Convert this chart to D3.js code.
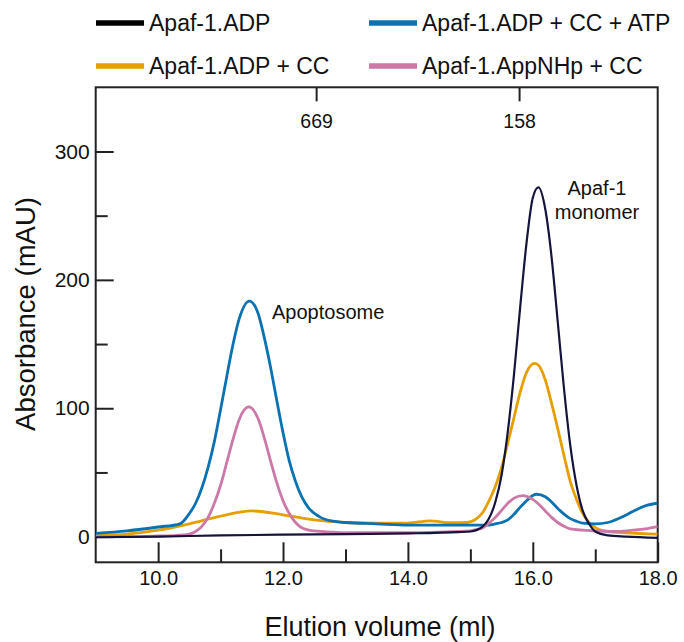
<!DOCTYPE html>
<html>
  <head>
    <meta charset="UTF-8" />
    <title>Apaf-1 gel filtration</title>
    <script src="https://d3js.org/d3.v7.min.js"></script>
    <style>
      body {
        margin: 0;
        background-color: #fff;
      }
      svg text {
        font-family: "Liberation Sans", Arial, sans-serif;
        fill: #111;
      }
    </style>
  </head>
  <body>
    <div id="chart"></div>

    <script>
      // elution volume (ml), absorbance (mAU)
      const apafADP = [
        [9.0, -0.5], [10.0, 0], [11.0, 1], [12.0, 1.5], [13.0, 2], [14.0, 2.5],
        [14.8, 3.5], [15.0, 4], [15.2, 8], [15.4, 27], [15.5, 48], [15.6, 82],
        [15.7, 127], [15.8, 180], [15.9, 229], [16.0, 264], [16.09, 272],
        [16.2, 255], [16.3, 218], [16.4, 167], [16.5, 115], [16.6, 71],
        [16.7, 40], [16.8, 20], [16.9, 10], [17.0, 4], [17.2, 1], [17.5, 0],
        [18.0, -1],
      ];
      const apafADPCC = [
        [9.0, 1], [9.5, 2], [10.0, 5], [10.5, 10], [11.0, 16], [11.5, 20],
        [12.0, 17], [12.5, 13], [13.0, 11], [13.5, 10.4], [14.0, 10.5],
        [14.35, 12.3], [14.7, 10.8], [14.95, 11], [15.1, 14], [15.2, 19],
        [15.3, 28], [15.4, 39], [15.5, 54], [15.6, 73], [15.7, 93],
        [15.8, 113], [15.9, 128], [16.03, 135], [16.1, 133], [16.2, 122],
        [16.3, 104], [16.4, 84], [16.5, 63], [16.6, 43], [16.7, 29],
        [16.8, 18], [16.9, 11], [17.0, 7], [17.2, 4], [17.5, 3], [18.0, 2],
      ];
      const apafADPCCATP = [
        [9.0, 2.5], [9.5, 4.5], [10.0, 7.5], [10.35, 10], [10.5, 18],
        [10.6, 26], [10.8, 54], [10.9, 74], [11.0, 99], [11.1, 125],
        [11.2, 150], [11.3, 170], [11.46, 183.5], [11.6, 174], [11.7, 155],
        [11.8, 132], [11.9, 106], [12.0, 81], [12.1, 59], [12.2, 43],
        [12.3, 31], [12.4, 23], [12.6, 15], [12.8, 12], [13.0, 11],
        [13.5, 10], [14.0, 9], [14.5, 9], [15.0, 9], [15.3, 9], [15.4, 10],
        [15.5, 11], [15.6, 13], [15.7, 17.5], [15.8, 23], [15.9, 28],
        [16.0, 32], [16.06, 33], [16.2, 31], [16.3, 27], [16.4, 22],
        [16.5, 17.5], [16.6, 14], [16.7, 12], [16.8, 10.5], [17.0, 10],
        [17.2, 11], [17.4, 14.7], [17.6, 19.5], [17.8, 24], [18.0, 26],
      ];
      const apafAppNHpCC = [
        [9.0, 0], [9.5, 0], [10.0, 0.5], [10.3, 1], [10.5, 2], [10.6, 4],
        [10.7, 8], [10.8, 15], [10.9, 26], [11.0, 40], [11.1, 58],
        [11.2, 76], [11.3, 91.5], [11.45, 101], [11.6, 92], [11.7, 77],
        [11.8, 59], [11.9, 42], [12.0, 28], [12.1, 18], [12.2, 11],
        [12.3, 7], [12.5, 4.5], [12.8, 3.5], [13.0, 3], [14.0, 3],
        [14.5, 3.5], [15.0, 4.5], [15.1, 5.5], [15.2, 7], [15.3, 10.5],
        [15.4, 15], [15.5, 20.5], [15.6, 26], [15.7, 30], [15.84, 32],
        [16.0, 29], [16.1, 25], [16.2, 20], [16.3, 15], [16.4, 11],
        [16.5, 8], [16.6, 6], [16.8, 5], [17.0, 4.5], [17.3, 4],
        [17.6, 5], [17.8, 6], [18.0, 8],
      ];

      const seriesNames = [
        "Apaf-1.ADP",
        "Apaf-1.ADP + CC + ATP",
        "Apaf-1.ADP + CC",
        "Apaf-1.AppNHp + CC",
      ];
      const seriesData = [apafADP, apafADPCCATP, apafADPCC, apafAppNHpCC];
      const seriesColors = ["#14143c", "#0a72b2", "#e69f00", "#cc79a7"];
      const legendColors = ["#000000", "#0a72b2", "#e69f00", "#cc79a7"];
      const drawOrder = [2, 1, 3, 0];

      const xMajorTicks = [10, 12, 14, 16, 18];
      const xMinorTicks = [11, 13, 15, 17];
      const yMajorTicks = [0, 100, 200, 300];
      const yMinorTicks = [50, 150, 250];

      // size standards (kDa) on the top axis
      const markerVolumes = [12.53, 15.78];
      const markerLabels = ["669", "158"];

      const width = 684;
      const height = 642;
      const plotLeft = 95.7,
        plotRight = 657.7,
        plotTop = 87.3,
        plotBottom = 562.3;

      const x = d3.scaleLinear().domain([9, 18]).range([plotLeft, plotRight]);
      const y = d3.scaleLinear().domain([-20, 350]).range([plotBottom, plotTop]);

      const svg = d3
        .select("#chart")
        .append("svg")
        .attr("width", width)
        .attr("height", height);

      svg
        .append("clipPath")
        .attr("id", "plot-clip")
        .append("rect")
        .attr("x", plotLeft)
        .attr("y", plotTop)
        .attr("width", plotRight - plotLeft)
        .attr("height", plotBottom - plotTop);

      // x axis, ticks pointing inward
      const xAxis = svg
        .append("g")
        .attr("transform", `translate(0,${plotBottom})`)
        .call(
          d3
            .axisBottom(x)
            .tickValues(xMajorTicks)
            .tickSize(-20)
            .tickSizeOuter(0)
            .tickPadding(9)
            .tickFormat(d3.format(".1f"))
        );
      svg
        .append("g")
        .attr("transform", `translate(0,${plotBottom})`)
        .call(
          d3
            .axisBottom(x)
            .tickValues(xMinorTicks)
            .tickSize(-13)
            .tickSizeOuter(0)
            .tickFormat("")
        );

      const yAxis = svg
        .append("g")
        .attr("transform", `translate(${plotLeft},0)`)
        .call(
          d3
            .axisLeft(y)
            .tickValues(yMajorTicks)
            .tickSize(-18)
            .tickSizeOuter(0)
            .tickPadding(6)
        );
      svg
        .append("g")
        .attr("transform", `translate(${plotLeft},0)`)
        .call(
          d3
            .axisLeft(y)
            .tickValues(yMinorTicks)
            .tickSize(-12)
            .tickSizeOuter(0)
            .tickFormat("")
        );

      // top axis with the molecular weight markers
      const topAxis = svg
        .append("g")
        .attr("transform", `translate(0,${plotTop})`)
        .call(
          d3
            .axisTop(x)
            .tickValues(markerVolumes)
            .tickSize(-14)
            .tickSizeOuter(0)
            .tickPadding(7)
            .tickFormat((d, i) => markerLabels[i])
        );
      topAxis
        .selectAll(".tick text")
        .attr("dy", "0.71em")
        .attr("y", 14 + 7 + 6);

      svg.selectAll(".domain").remove();
      svg.selectAll(".tick line").attr("stroke", "#222").attr("stroke-width", 2);
      xAxis.selectAll(".tick text").attr("font-size", 20);
      yAxis.selectAll(".tick text").attr("font-size", 21);
      topAxis.selectAll(".tick text").attr("font-size", 19.5);
      svg.selectAll(".tick text").attr("fill", "#111");
      svg.selectAll("g").attr("font-family", null);

      // frame
      svg
        .append("rect")
        .attr("x", plotLeft)
        .attr("y", plotTop)
        .attr("width", plotRight - plotLeft)
        .attr("height", plotBottom - plotTop)
        .attr("fill", "none")
        .attr("stroke", "#222")
        .attr("stroke-width", 2);

      const line = d3
        .line()
        .x((d) => x(d[0]))
        .y((d) => y(d[1]))
        .curve(d3.curveMonotoneX);

      svg
        .append("g")
        .attr("clip-path", "url(#plot-clip)")
        .selectAll("path")
        .data(drawOrder)
        .enter()
        .append("path")
        .attr("d", (i) => line(seriesData[i]))
        .attr("fill", "none")
        .attr("stroke", (i) => seriesColors[i])
        .attr("stroke-width", (i) => (i === 0 ? 2.2 : 2.8))
        .attr("stroke-linejoin", "round");

      // peak labels
      svg
        .append("text")
        .attr("x", 272)
        .attr("y", 319)
        .attr("font-size", 20)
        .text("Apoptosome");
      const mono = svg
        .append("text")
        .attr("text-anchor", "middle")
        .attr("font-size", 20);
      mono.append("tspan").attr("x", 597).attr("y", 195).text("Apaf-1");
      mono.append("tspan").attr("x", 597).attr("y", 219).text("monomer");

      // legend, two columns
      const legendPos = [
        [96, 23],
        [369, 23],
        [96, 66],
        [369, 66],
      ];
      const legend = svg
        .append("g")
        .selectAll("g")
        .data(seriesNames)
        .enter()
        .append("g")
        .attr("transform", (d, i) => `translate(${legendPos[i][0]},${legendPos[i][1]})`);
      legend
        .append("line")
        .attr("x1", 0)
        .attr("x2", 48)
        .attr("stroke", (d, i) => legendColors[i])
        .attr("stroke-width", 5.3);
      legend
        .append("text")
        .attr("x", 53)
        .attr("y", 8.3)
        .attr("font-size", 23)
        .text((d) => d);

      // axis titles
      svg
        .append("text")
        .attr("transform", "translate(35,314) rotate(-90)")
        .attr("text-anchor", "middle")
        .attr("font-size", 27.5)
        .text("Absorbance (mAU)");
      svg
        .append("text")
        .attr("x", 380)
        .attr("y", 636)
        .attr("text-anchor", "middle")
        .attr("font-size", 27)
        .text("Elution volume (ml)");
    </script>
  </body>
</html>
